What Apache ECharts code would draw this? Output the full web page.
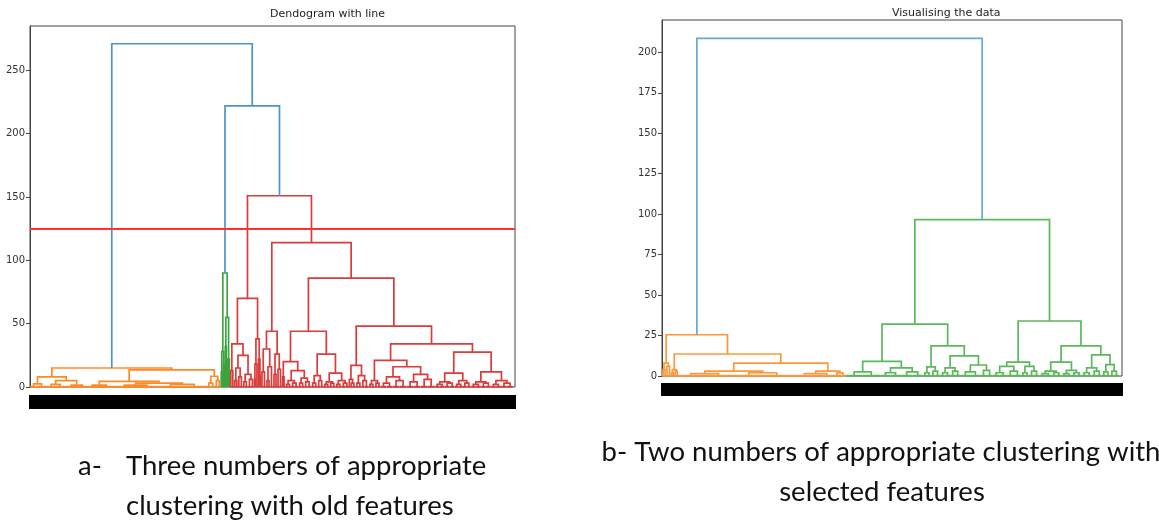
<!DOCTYPE html>
<html>
<head>
<meta charset="utf-8">
<script src="https://cdn.jsdelivr.net/npm/echarts@6/dist/echarts.min.js"></script>
<style>
html,body{margin:0;padding:0;background:#fff;}
#c{width:1159px;height:521px;}
</style>
</head>
<body>
<div id="c"></div>
<script>
// ---------- DATA ----------
// Tree nodes: a number = a tight clump of that many leaves (merged near 0);
// [height, left, right] = a merge at that linkage distance.
const titleA = 'Dendogram with line';
const titleB = 'Visualising the data';
const yTicksA = [0, 50, 100, 150, 200, 250];
const yTicksB = [0, 25, 50, 75, 100, 125, 150, 175, 200];
const thresholdA = 125;

const orangeA = [15,
  [8, [2.5, 7, 9], [5, [2, 10, 8], [1.5, 14, 8]]],
  [13.5, [4.5, [1.5, 12, 16], [3, [1.5, 20, 25], [2, 22, 25]]], [8.5, [3, 4, 4], [5, 3, 3]]]
];
const greenA = [90, [28, [12, 1, 1], [18, 1, 1]], [55, [32, 1, 1], [22, [10, 1, 1], 1]]];
const redA = [151,
  [70,
    [34, [13, 2, 2], [25, [15, [5, 2, 2], [8, 2, 3]], [10, [4, 2, 3], [6, 3, 3]]]],
    [38, [18, [6, 1, 1], 2], [22, 1, [9, 1, 1]]]
  ],
  [114,
    [44, [30, [12, 2, 3], [16, [5, 2, 2], 3]], [26, [10, 2, 2], [14, 2, 3]]],
    [86,
      [44,
        [20, [8, 1, 2], [13, [5, [2, 3, 3], [3, 3, 4]], [7, [3, 3, 3], [4, 3, 4]]]],
        [26, [9, [3, 3, 3], [5, 3, 3]], [11, [4, [2, 3, 3], [3, 3, 3]], [5, [2, 3, 3], [3, 4, 3]]]]
      ],
      [48,
        [17, [6, 2, [3, 2, 3]], [9, [3, 3, 3], [5, 3, 4]]],
        [34,
          [21, [5, [2, 3, 3], [3, 3, 3]], [16, [8, [3, 6, 6], [5, 7, 7]], [10, [4, 7, 7], [6, 7, 7]]]],
          [27.6, [11, [4, [2, 5, 5], [3, 5, 5]], [5, [2, 4, 4], [3, 4, 4]]],
                 [12, [4, [2, 5, 5], [3, 5, 5]], [5, [2, 5, 5], [3, 6, 6]]]]
        ]
      ]
    ]
  ]
];
const rootA = [271, orangeA, [222, greenA, redA]];

const orangeB = [25.5,
  [8, [4, 2, 2], [6, 2, 3]],
  [13.6, [4, [2, 1, 2], [3, 2, 2]],
    [8, [3, [1.5, 25, 30], [2, 30, 25]], [3, [1.5, 30, 14], [2, 6, 6]]]]
];
const greenB = [96.6,
  [32,
    [9, [2.5, 16, 18], [5, [2, 10, 10], [2.5, 12, 10]]],
    [18.6, [5.6, [2, 4, 4], [3, 4, 5]], [12.4, [5, [2, 5, 5], [3, 5, 5]], [6.8, [2.5, 10, 10], [3.5, 6, 6]]]]
  ],
  [34,
    [8.6, [6, [2, 7, 7], [3, 7, 7]], [6, [2, 4, 4], [3, 5, 5]]],
    [18.6, [8.6, [3, [1.5, 6, 6], [2, 5, 5]], [3.5, [1.5, 5, 5], [2, 5, 5]]],
           [13, [5, [2, 5, 5], [3, 5, 5]], [7, [2.5, 4, 4], [3, 4, 5]]]]
  ]
];
const rootB = [208.7, orangeB, greenB];

const captionA1 = 'a-';
const captionA2 = 'Three numbers of appropriate';
const captionA3 = 'clustering with old features';
const captionB1 = 'b- Two numbers of appropriate clustering with';
const captionB2 = 'selected features';

// ---------- COLOURS ----------
const colA = {blue: '#4d94cc', orange: '#ff8a24', green: '#3ca43c', red: '#dc3b3b', cut: '#ff3030'};
const colB = {blue: '#6aa6d8', orange: '#ff9838', green: '#5bb85b'};
const clusterColour = new Map([
  [orangeA, colA.orange], [greenA, colA.green], [redA, colA.red],
  [orangeB, colB.orange], [greenB, colB.green]
]);

// ---------- LAYOUT (scipy-style: node x = mean of children x) ----------
function layout(node, state, colour, out) {
  if (typeof node === 'number') {
    const x0 = state.i;
    state.i += node;
    out.push({coords: [[x0 + 0.3, 0], [state.i - 0.3, 0]], lineStyle: {color: colour, width: 2.4}});
    return {x: x0 + node / 2, h: 0};
  }
  const c = clusterColour.get(node) || colour;
  const L = layout(node[1], state, c, out);
  const R = layout(node[2], state, c, out);
  out.push({coords: [[L.x, L.h], [L.x, node[0]], [R.x, node[0]], [R.x, R.h]], lineStyle: {color: c}});
  return {x: (L.x + R.x) / 2, h: node[0]};
}
function countLeaves(n) { return typeof n === 'number' ? n : countLeaves(n[1]) + countLeaves(n[2]); }

const linksA = []; layout(rootA, {i: 0}, colA.blue, linksA);
const linksB = []; layout(rootB, {i: 0}, colB.blue, linksB);
const nA = countLeaves(rootA), nB = countLeaves(rootB);

const chart = echarts.init(document.getElementById('c'), null, {renderer: 'canvas'});
const tickFont = {fontFamily: 'DejaVu Sans', fontSize: 10, color: '#333'};
function yAxis(idx, max, interval, ticks) {
  return {
    type: 'value', gridIndex: idx, min: 0, max: max, interval: interval,
    axisLine: {show: true, lineStyle: {color: '#444', width: 1}},
    axisTick: {show: true, length: 4, lineStyle: {color: '#444'}, customValues: ticks},
    axisLabel: Object.assign({margin: 5, customValues: ticks}, tickFont),
    splitLine: {show: false}
  };
}
const capFont = '27.5px Lato';
chart.setOption({
  animation: false,
  backgroundColor: '#fff',
  grid: [
    {left: 30, top: 26, width: 485, height: 361, show: true, borderColor: '#444', borderWidth: 1, backgroundColor: 'transparent'},
    {left: 662, top: 20, width: 460, height: 356, show: true, borderColor: '#444', borderWidth: 1, backgroundColor: 'transparent'}
  ],
  xAxis: [
    {type: 'value', gridIndex: 0, min: 0, max: nA + 2, show: false},
    {type: 'value', gridIndex: 1, min: 0, max: nB + 3, show: false}
  ],
  yAxis: [yAxis(0, 285, 50, yTicksA), yAxis(1, 220, 25, yTicksB)],
  series: [
    {type: 'lines', coordinateSystem: 'cartesian2d', xAxisIndex: 0, yAxisIndex: 0, polyline: true,
     lineStyle: {width: 1.7, opacity: 1}, data: linksA, silent: true},
    {type: 'lines', coordinateSystem: 'cartesian2d', xAxisIndex: 1, yAxisIndex: 1, polyline: true,
     lineStyle: {width: 1.7, opacity: 1}, data: linksB, silent: true},
    {type: 'line', xAxisIndex: 0, yAxisIndex: 0, data: [], silent: true,
     markLine: {silent: true, symbol: 'none', label: {show: false},
       lineStyle: {color: colA.cut, width: 2, type: 'solid'}, data: [{yAxis: thresholdA}]}}
  ],
  graphic: [
    {type: 'text', left: 270, top: 9, style: {text: titleA, font: '11px "DejaVu Sans"', fill: '#222', textAlign: 'center'}},
    {type: 'text', left: 892, top: 8, style: {text: titleB, font: '11px "DejaVu Sans"', fill: '#222', textAlign: 'center'}},
    {type: 'rect', shape: {x: 29, y: 395, width: 487, height: 14}, style: {fill: '#000'}},
    {type: 'rect', shape: {x: 661, y: 383, width: 462, height: 13}, style: {fill: '#000'}},
    {type: 'text', x: 78, y: 466, style: {text: captionA1, font: capFont, fill: '#111', textVerticalAlign: 'middle'}},
    {type: 'text', x: 126, y: 466, style: {text: captionA2, font: capFont, fill: '#111', textVerticalAlign: 'middle'}},
    {type: 'text', x: 126, y: 506, style: {text: captionA3, font: capFont, fill: '#111', textVerticalAlign: 'middle'}},
    {type: 'text', x: 881, y: 452, style: {text: captionB1, font: capFont, fill: '#111', textAlign: 'center', textVerticalAlign: 'middle'}},
    {type: 'text', x: 882, y: 492, style: {text: captionB2, font: capFont, fill: '#111', textAlign: 'center', textVerticalAlign: 'middle'}}
  ]
});
</script>
</body>
</html>
